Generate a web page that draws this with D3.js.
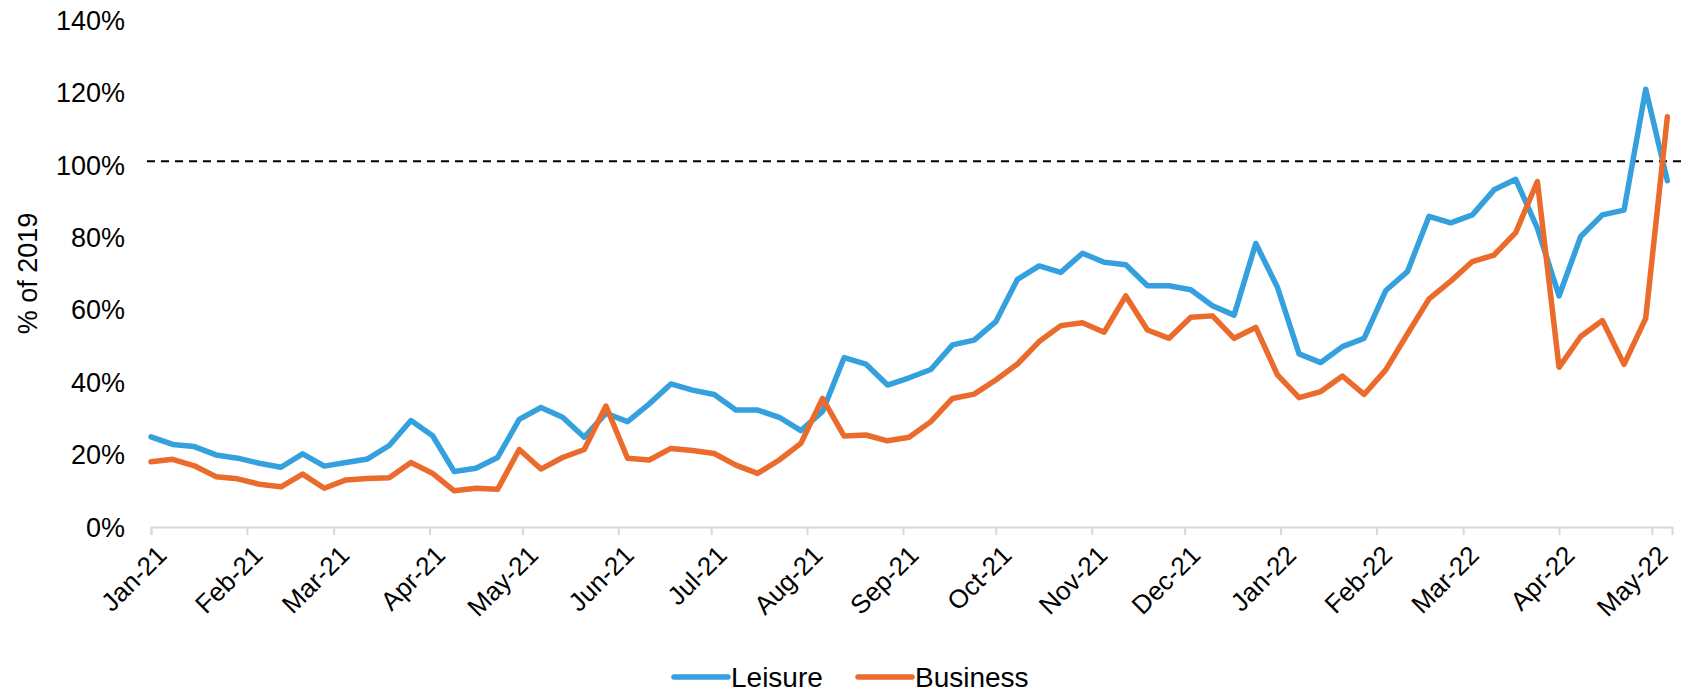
<!DOCTYPE html>
<html>
<head>
<meta charset="utf-8">
<script src="https://cdn.jsdelivr.net/npm/d3@7"></script>
<style>
  html, body { margin: 0; padding: 0; background: #ffffff; }
  svg { display: block; font-family: "Liberation Sans", Arial, sans-serif; }
</style>
</head>
<body>
<svg id="chart" width="1688" height="693"></svg>
<script>
// ---- data ----
const seriesNames = ["Leisure", "Business"];
const firstWeek = "2021-01-01";
const leisure = [
  24.9, 22.8, 22.2, 19.9, 19.0, 17.6, 16.5, 20.2, 16.8, 17.8,
  18.8, 22.5, 29.4, 25.2, 15.3, 16.2, 19.2, 29.7, 33.0, 30.3,
  24.8, 31.4, 29.1, 34.0, 39.5, 37.8, 36.6, 32.3, 32.3, 30.3,
  26.6, 31.9, 46.8, 45.0, 39.2, 41.2, 43.5, 50.3, 51.6, 56.7,
  68.4, 72.1, 70.3, 75.6, 73.1, 72.4, 66.6, 66.6, 65.5, 61.1,
  58.5, 78.3, 66.2, 47.8, 45.4, 49.8, 52.1, 65.3, 70.5, 85.8,
  84.0, 86.2, 93.1, 96.0, 82.5, 63.8, 80.2, 86.2, 87.5, 120.9,
  95.6
];
const business = [
  18.0, 18.7, 16.9, 13.9, 13.3, 11.8, 11.1, 14.6, 10.7, 13.0,
  13.4, 13.6, 17.8, 14.8, 10.0, 10.7, 10.4, 21.4, 16.0, 19.2,
  21.4, 33.4, 19.0, 18.5, 21.7, 21.1, 20.3, 17.1, 14.8, 18.5,
  23.1, 35.5, 25.1, 25.4, 23.8, 24.8, 29.1, 35.5, 36.7, 40.6,
  45.0, 51.2, 55.6, 56.4, 53.8, 63.8, 54.4, 52.1, 57.9, 58.3,
  52.1, 55.1, 42.0, 35.7, 37.4, 41.7, 36.6, 43.4, 53.3, 63.0,
  67.9, 73.3, 75.1, 81.3, 95.4, 44.1, 52.6, 57.0, 44.9, 57.6,
  113.3
];
const xTickLabels = ["Jan-21","Feb-21","Mar-21","Apr-21","May-21","Jun-21","Jul-21","Aug-21",
  "Sep-21","Oct-21","Nov-21","Dec-21","Jan-22","Feb-22","Mar-22","Apr-22","May-22"];
const yTicks = [0, 20, 40, 60, 80, 100, 120, 140];
const refValue = 101;
const yTitle = "% of 2019";
const colors = ["#34A0DE", "#EA6B2C"];

// ---- scales ----
const svg = d3.select("#chart");
const parseDay = d3.utcParse("%Y-%m-%d");
const parseMonth = d3.utcParse("%b-%y");
const start = parseDay(firstWeek);
const dates = leisure.map((_, i) => d3.utcDay.offset(start, 7 * i));
const xEnd = d3.utcHour.offset(d3.utcDay.offset(start, 491), 12);

const x = d3.scaleUtc().domain([start, xEnd]).range([151, 1672]);
const y = d3.scaleLinear().domain([0, 140]).range([527, 20]);

// ---- y axis labels ----
svg.append("g")
  .selectAll("text")
  .data(yTicks)
  .join("text")
  .attr("x", 125)
  .attr("y", d => y(d))
  .attr("dy", "0.36em")
  .attr("text-anchor", "end")
  .attr("font-size", 27)
  .attr("fill", "#000")
  .text(d => d + "%");

svg.append("text")
  .attr("transform", `translate(37, ${(y(0) + y(140)) / 2}) rotate(-90)`)
  .attr("text-anchor", "middle")
  .attr("font-size", 27)
  .attr("fill", "#000")
  .text(yTitle);

// ---- x axis ----
const tickDates = xTickLabels.map(parseMonth);
const xAxis = d3.axisBottom(x)
  .tickValues(tickDates)
  .tickSize(8)
  .tickFormat((d, i) => xTickLabels[i]);

const gx = svg.append("g")
  .attr("transform", `translate(0, ${y(0)})`)
  .call(xAxis);
gx.select(".domain").attr("stroke", "#d9d9d9").attr("stroke-width", 2);
gx.selectAll(".tick line").attr("stroke", "#d9d9d9").attr("stroke-width", 2);
gx.selectAll(".tick text")
  .attr("font-size", 26)
  .attr("font-family", "'Liberation Sans', Arial, sans-serif")
  .attr("fill", "#000")
  .attr("text-anchor", "end")
  .attr("y", 0)
  .attr("dy", "0.75em")
  .attr("transform", "translate(3, 16) rotate(-45)");

// ---- reference line ----
svg.append("line")
  .attr("x1", x.range()[0] - 4)
  .attr("x2", x.range()[1] + 9)
  .attr("y1", y(refValue))
  .attr("y2", y(refValue))
  .attr("stroke", "#000")
  .attr("stroke-width", 2)
  .attr("stroke-dasharray", "8,6");

// ---- lines ----
const line = d3.line()
  .x((d, i) => x(dates[i]))
  .y(d => y(d));

[leisure, business].forEach((vals, si) => {
  svg.append("path")
    .datum(vals)
    .attr("fill", "none")
    .attr("stroke", colors[si])
    .attr("stroke-width", 5.5)
    .attr("stroke-linejoin", "round")
    .attr("stroke-linecap", "round")
    .attr("d", line);
});

// ---- legend ----
const legendY = 677;
const legendItems = [
  { name: seriesNames[0], color: colors[0], x0: 674 },
  { name: seriesNames[1], color: colors[1], x0: 858 }
];
const lg = svg.append("g");
legendItems.forEach(it => {
  lg.append("line")
    .attr("x1", it.x0).attr("x2", it.x0 + 54)
    .attr("y1", legendY).attr("y2", legendY)
    .attr("stroke", it.color)
    .attr("stroke-width", 5.5)
    .attr("stroke-linecap", "round");
  lg.append("text")
    .attr("x", it.x0 + 57)
    .attr("y", legendY)
    .attr("dy", "0.36em")
    .attr("font-size", 28)
    .attr("fill", "#000")
    .text(it.name);
});
</script>
</body>
</html>
